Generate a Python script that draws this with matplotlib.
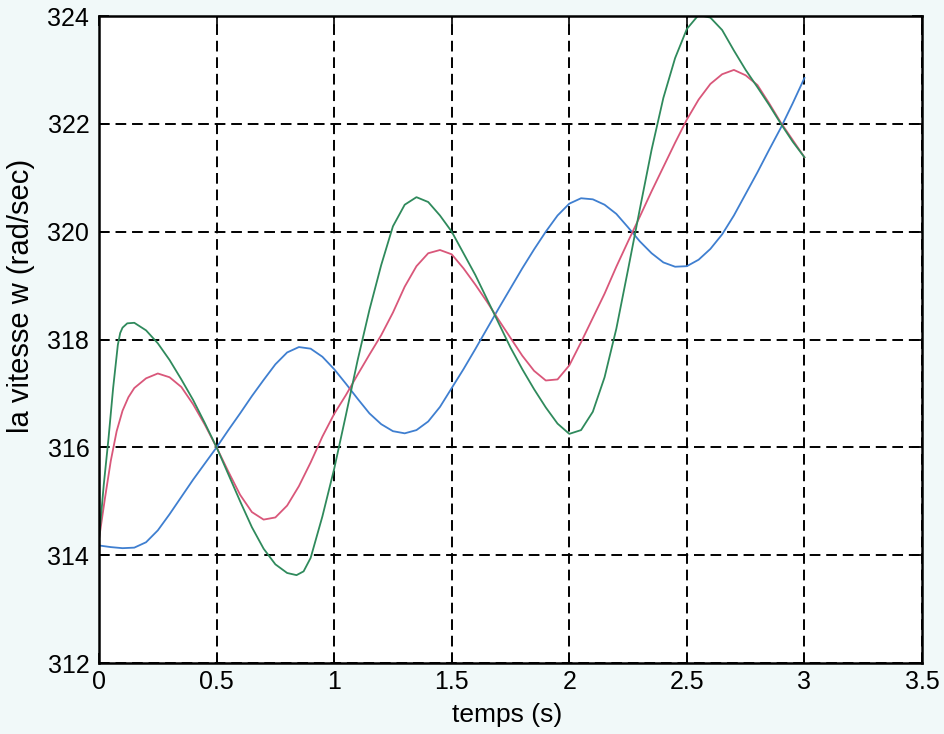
import matplotlib
matplotlib.use('Agg')
import matplotlib.pyplot as plt
from matplotlib import font_manager

# values
t_blue = [0.0, 0.05, 0.1, 0.15, 0.2, 0.25, 0.3, 0.35, 0.4, 0.45, 0.5, 0.55, 0.6, 0.65,
          0.7, 0.75, 0.8, 0.85, 0.9, 0.95, 1.0, 1.05, 1.1, 1.15, 1.2, 1.25, 1.3, 1.35,
          1.4, 1.45, 1.5, 1.55, 1.6, 1.65, 1.7, 1.75, 1.8, 1.85, 1.9, 1.95, 2.0, 2.05,
          2.1, 2.15, 2.2, 2.25, 2.3, 2.35, 2.4, 2.45, 2.5, 2.55, 2.6, 2.65, 2.7, 2.75,
          2.8, 2.85, 2.9, 2.95, 3.0]
w_blue = [314.18, 314.15, 314.13, 314.14, 314.24, 314.46, 314.76, 315.08, 315.4, 315.7,
          316.0, 316.32, 316.63, 316.95, 317.25, 317.54, 317.76, 317.86, 317.83, 317.68,
          317.45, 317.18, 316.9, 316.63, 316.43, 316.3, 316.26, 316.32, 316.48, 316.75,
          317.1, 317.45, 317.82, 318.2, 318.58, 318.95, 319.32, 319.67, 320.0, 320.3,
          320.52, 320.62, 320.6, 320.5, 320.33, 320.08, 319.82, 319.6, 319.43, 319.35,
          319.36, 319.48, 319.68, 319.95, 320.3, 320.7, 321.1, 321.52, 321.93, 322.38,
          322.85]

t_red = [0.0, 0.025, 0.05, 0.075, 0.1, 0.125, 0.15, 0.2, 0.25, 0.3, 0.35, 0.4, 0.45, 0.5,
         0.55, 0.6, 0.65, 0.7, 0.75, 0.8, 0.85, 0.9, 0.95, 1.0, 1.05, 1.1, 1.15, 1.2,
         1.25, 1.3, 1.35, 1.4, 1.45, 1.5, 1.55, 1.6, 1.65, 1.7, 1.75, 1.8, 1.85, 1.9,
         1.95, 2.0, 2.05, 2.1, 2.15, 2.2, 2.25, 2.3, 2.35, 2.4, 2.45, 2.5, 2.55, 2.6,
         2.65, 2.7, 2.75, 2.8, 2.85, 2.9, 2.95, 3.0]
w_red = [314.3, 315.05, 315.75, 316.3, 316.68, 316.93, 317.1, 317.28, 317.37, 317.3,
         317.12, 316.8, 316.42, 316.0, 315.55, 315.12, 314.8, 314.66, 314.7, 314.92,
         315.28, 315.72, 316.2, 316.62, 316.97, 317.35, 317.72, 318.08, 318.5, 318.98,
         319.36, 319.6, 319.66, 319.58, 319.32, 319.02, 318.7, 318.36, 318.03, 317.7,
         317.42, 317.24, 317.26, 317.52, 317.95, 318.4, 318.85, 319.35, 319.82, 320.28,
         320.75, 321.2, 321.65, 322.08, 322.45, 322.74, 322.92, 323.0, 322.9, 322.72,
         322.38, 322.02, 321.7, 321.38]

t_green = [0.0, 0.02, 0.04, 0.06, 0.08, 0.09, 0.1, 0.12, 0.15, 0.2, 0.25, 0.3, 0.35,
           0.4, 0.45, 0.5, 0.55, 0.6, 0.65, 0.7, 0.75, 0.8, 0.84, 0.87, 0.9, 0.95, 1.0,
           1.05, 1.1, 1.15, 1.2, 1.25, 1.3, 1.35, 1.4, 1.45, 1.5, 1.55, 1.6, 1.65, 1.7,
           1.75, 1.8, 1.85, 1.9, 1.95, 2.0, 2.05, 2.1, 2.15, 2.2, 2.25, 2.3, 2.35, 2.4,
           2.45, 2.5, 2.55, 2.6, 2.65, 2.7, 2.75, 2.8, 2.85, 2.9, 2.95, 3.0]
w_green = [314.3, 315.3, 316.15, 317.1, 317.9, 318.12, 318.22, 318.3, 318.31, 318.17,
           317.93, 317.62, 317.26, 316.88, 316.45, 316.0, 315.5, 315.0, 314.52, 314.12,
           313.83, 313.67, 313.63, 313.7, 313.95, 314.72, 315.6, 316.6, 317.62, 318.55,
           319.38, 320.1, 320.5, 320.64, 320.55, 320.3, 320.0, 319.6, 319.2, 318.75,
           318.3, 317.85, 317.45, 317.08, 316.74, 316.44, 316.25, 316.32, 316.66, 317.3,
           318.2, 319.3, 320.42, 321.52, 322.48, 323.22, 323.76, 324.02, 323.97, 323.74,
           323.36, 323.0, 322.68, 322.35, 322.0, 321.67, 321.38]

x_ticks = [0, 0.5, 1, 1.5, 2, 2.5, 3, 3.5]
x_labels = ['0', '0.5', '1', '1.5', '2', '2.5', '3', '3.5']
y_ticks = [312, 314, 316, 318, 320, 322, 324]

names = {f.name for f in font_manager.fontManager.ttflist}
font = 'Liberation Sans Narrow' if 'Liberation Sans Narrow' in names else 'Liberation Sans'

fig = plt.figure(figsize=(9.44, 7.34), dpi=100, facecolor='#f1f9f9')
ax = fig.add_axes([0.1049, 0.0967, 0.8718, 0.8815])
ax.set_facecolor('white')

ax.plot(t_blue, w_blue, color='#3f7fd0', lw=1.3)
ax.plot(t_red, w_red, color='#d9577a', lw=1.3)
ax.plot(t_green, w_green, color='#2f8a5c', lw=1.3)

ax.set_xlim(0, 3.5)
ax.set_ylim(312, 324)
ax.set_xticks(x_ticks)
ax.set_xticklabels(x_labels)
ax.set_yticks(y_ticks)
ax.grid(True, color='black', linestyle=(0, (5.5, 3)), linewidth=1.4)
ax.tick_params(direction='in', length=7, width=1.2, top=True, right=True,
               labelsize=18, colors='black')
ax.tick_params(axis='x', pad=5)
ax.tick_params(axis='y', pad=7)
for lab in ax.get_xticklabels() + ax.get_yticklabels():
    lab.set_fontfamily(font)
for s in ax.spines.values():
    s.set_linewidth(1.8)
    s.set_color('black')

ax.set_xlabel('temps (s)', fontsize=19, family=font, va='center')
ax.xaxis.set_label_coords(0.496, -0.08)
ax.set_ylabel('la vitesse w (rad/sec)', fontsize=21, family='Liberation Sans', va='center')
ax.yaxis.set_label_coords(-0.095, 0.567)

fig.savefig('out.png', dpi=100, facecolor=fig.get_facecolor())
